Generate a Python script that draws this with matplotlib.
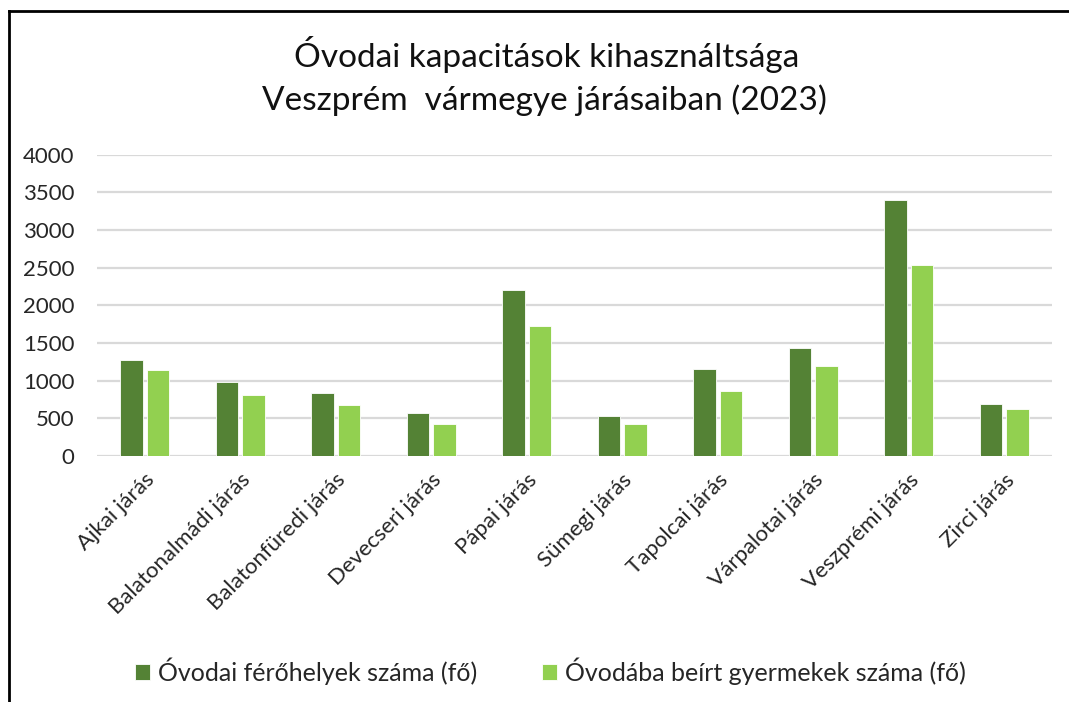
import matplotlib
matplotlib.use("Agg")
import matplotlib.pyplot as plt
from matplotlib.lines import Line2D
import numpy as np

plt.rcParams["font.family"] = ["Lato", "DejaVu Sans"]

# adatok
jarasok = ["Ajkai járás", "Balatonalmádi járás", "Balatonfüredi járás", "Devecseri járás",
           "Pápai járás", "Sümegi járás", "Tapolcai járás", "Várpalotai járás",
           "Veszprémi járás", "Zirci járás"]
ferohely = [1275, 985, 830, 575, 2205, 525, 1150, 1430, 3400, 690]
beirt = [1140, 815, 675, 420, 1730, 420, 865, 1190, 2530, 625]
y_ticks = [0, 500, 1000, 1500, 2000, 2500, 3000, 3500, 4000]

sotet = "#548235"
vilagos = "#92D050"

fig = plt.figure(figsize=(10.69, 7.02), dpi=100)
ax = fig.add_axes([0.0907, 0.3504, 0.8933, 0.4292])

x = np.arange(len(jarasok))
w = 0.235
ax.bar(x - 0.14, ferohely, w, color=sotet, edgecolor="white", linewidth=0.6,
       label="Óvodai férőhelyek száma (fő)", zorder=3)
ax.bar(x + 0.14, beirt, w, color=vilagos, edgecolor="white", linewidth=0.6,
       label="Óvodába beírt gyermekek száma (fő)", zorder=3)

ax.set_xlim(-0.5, len(jarasok) - 0.5)
ax.set_ylim(0, 4000)
ax.set_yticks(y_ticks)
ax.set_yticklabels([str(v) for v in y_ticks], fontsize=16, color="#262626")
ax.yaxis.grid(True, color="#D9D9D9", linewidth=1.6, zorder=0)
ax.set_axisbelow(True)
for s in ax.spines.values():
    s.set_visible(False)
ax.tick_params(axis="both", length=0)
ax.tick_params(axis="y", pad=16)

ax.set_xticks(x)
ax.set_xticklabels(jarasok, rotation=45, ha="right", rotation_mode="anchor",
                   fontsize=16, color="#262626")
ax.tick_params(axis="x", pad=10)

fig.text(0.511, 0.922, "Óvodai kapacitások kihasználtsága", ha="center", va="center",
         fontsize=24, color="#111111")
fig.text(0.509, 0.857, "Veszprém  vármegye járásaiban (2023)", ha="center", va="center",
         fontsize=24, color="#111111")

ax.legend(loc="center", bbox_to_anchor=(0.515, 0.044), bbox_transform=fig.transFigure,
          ncol=2, frameon=False, fontsize=18, handlelength=0.6, handleheight=0.6,
          handletextpad=0.3, columnspacing=2.6, labelcolor="#262626")

# keret (bal és felső szél)
fig.add_artist(Line2D([0.008, 0.008], [0, 0.985], transform=fig.transFigure,
                      color="black", linewidth=2))
fig.add_artist(Line2D([0.008, 1.0], [0.985, 0.985], transform=fig.transFigure,
                      color="black", linewidth=2))

fig.savefig("out.png", dpi=100)
